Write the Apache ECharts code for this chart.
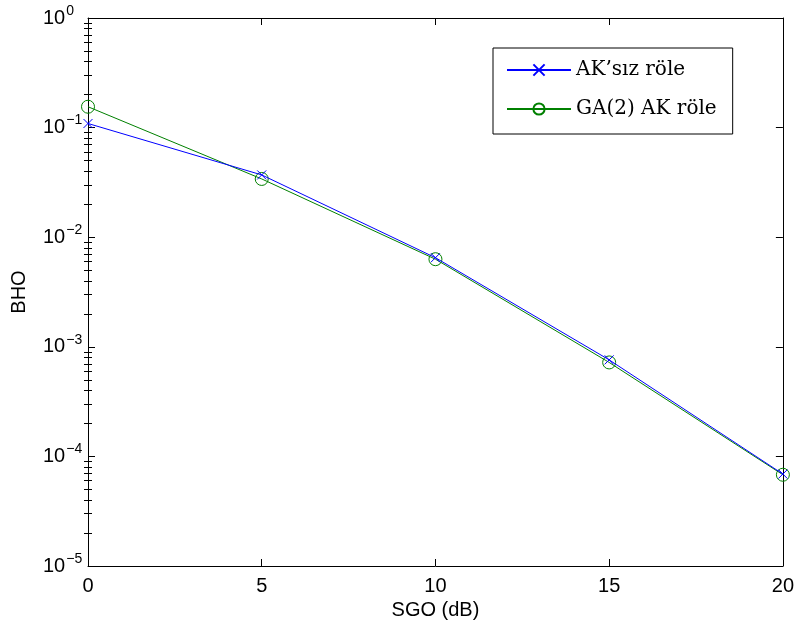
<!DOCTYPE html>
<html>
<head>
<meta charset="utf-8">
<script src="https://cdn.jsdelivr.net/npm/echarts@6/dist/echarts.min.js"></script>
<style>
  html, body { margin: 0; padding: 0; background: #fff; }
  #chart { width: 797px; height: 631px; }
</style>
</head>
<body>
<div id="chart"></div>
<script>
// SNR sweep (dB) and bit error rates for the two relay schemes
const snrDb = [0, 5, 10, 15, 20];
const berPlainRelay = [0.109, 0.037, 0.0065, 7.6e-4, 6.9e-5];
const berGaRelay = [0.155, 0.034, 0.0063, 7.2e-4, 6.8e-5];
const seriesNames = ['AK\u2019s\u0131z r\u00f6le', 'GA(2) AK r\u00f6le'];
const xTicks = [0, 5, 10, 15, 20];
const yDecades = [1e-5, 1e-4, 1e-3, 1e-2, 1e-1, 1];

// minor ticks at 2..9 inside each decade
const yMinor = [];
for (let e = -5; e < 0; e++) {
  for (let k = 2; k <= 9; k++) yMinor.push(k * Math.pow(10, e));
}

const crossPath = 'path://M0,0L10,10M10,0L0,10';
const sansFont = '"Liberation Sans", Arial, Helvetica, sans-serif';
const serifFont = '"DejaVu Serif", "Liberation Serif", serif';

function pairs(xs, ys) { return xs.map((x, i) => [x, ys[i]]); }

function logAxis(position, opts) {
  return Object.assign({
    type: 'log', logBase: 10, min: 1e-5, max: 1, position: position,
    gridIndex: 0,
    axisLine: { show: false },
    splitLine: { show: false },
    axisLabel: { show: false },
    axisTick: { show: false }
  }, opts);
}

const chart = echarts.init(document.getElementById('chart'), null, { renderer: 'canvas' });

chart.setOption({
  animation: false,
  backgroundColor: '#fff',
  grid: { left: 88, right: 13, top: 18, bottom: 65, containLabel: false },
  legend: {
    left: 493, top: 48, orient: 'vertical',
    backgroundColor: '#fff', borderColor: '#000', borderWidth: 1,
    padding: [12, 16, 15, 13],
    itemWidth: 64, itemHeight: 14, itemGap: 19,
    textStyle: { fontFamily: serifFont, fontSize: 20, lineHeight: 20, color: '#000' },
    data: seriesNames
  },
  xAxis: [
    {
      type: 'value', min: 0, max: 20, interval: 5, position: 'bottom',
      name: 'SGO (dB)', nameLocation: 'middle', nameGap: 34,
      nameTextStyle: { fontFamily: sansFont, fontSize: 20, color: '#000' },
      axisLine: { show: true, onZero: false, lineStyle: { color: '#000', width: 1 } },
      axisTick: { show: true, inside: true, length: 7, lineStyle: { color: '#000' } },
      axisLabel: { show: true, margin: 10, fontFamily: sansFont, fontSize: 20, color: '#000',
        customValues: xTicks },
      splitLine: { show: false }
    },
    {
      type: 'value', min: 0, max: 20, interval: 5, position: 'top',
      axisLine: { show: true, onZero: false, lineStyle: { color: '#000', width: 1 } },
      axisTick: { show: true, inside: true, length: 7, lineStyle: { color: '#000' } },
      axisLabel: { show: false },
      splitLine: { show: false }
    }
  ],
  yAxis: [
    logAxis('left', {
      name: 'BHO', nameLocation: 'middle', nameGap: 59,
      nameTextStyle: { fontFamily: sansFont, fontSize: 20, color: '#000' },
      axisLine: { show: true, onZero: false, lineStyle: { color: '#000', width: 1 } },
      axisTick: { show: true, inside: true, length: 7, customValues: yDecades, lineStyle: { color: '#000' } },
      axisLabel: {
        show: true, margin: 45, align: 'left', customValues: yDecades,
        formatter: function (v) {
          const e = Math.round(Math.log10(v));
          const exp = e < 0 ? '\u2212' + (-e) : String(e);
          return '{b|10}{s|' + exp + '}';
        },
        rich: {
          b: { fontFamily: sansFont, fontSize: 20, color: '#000', lineHeight: 20, verticalAlign: 'bottom' },
          s: { fontFamily: sansFont, fontSize: 14, color: '#000', lineHeight: 14, verticalAlign: 'bottom', padding: [0, 0, 10, 1] }
        }
      }
    }),
    logAxis('left', {
      axisTick: { show: true, inside: true, length: 4, customValues: yMinor, lineStyle: { color: '#000' } }
    }),
    logAxis('right', {
      axisLine: { show: true, onZero: false, lineStyle: { color: '#000', width: 1 } },
      axisTick: { show: true, inside: true, length: 7, customValues: yDecades, lineStyle: { color: '#000' } }
    }),
    logAxis('right', {
      axisTick: { show: true, inside: true, length: 4, customValues: yMinor, lineStyle: { color: '#000' } }
    })
  ],
  series: [
    {
      name: seriesNames[0], type: 'line', xAxisIndex: 0, yAxisIndex: 0,
      data: pairs(snrDb, berPlainRelay),
      symbol: crossPath, symbolSize: 9, symbolKeepAspect: true,
      lineStyle: { color: '#0000ff', width: 1 },
      itemStyle: { color: 'rgba(0,0,0,0)', borderColor: '#0000ff', borderWidth: 1 },
      z: 3
    },
    {
      name: seriesNames[1], type: 'line', xAxisIndex: 0, yAxisIndex: 0,
      data: pairs(snrDb, berGaRelay),
      symbol: 'circle', symbolSize: 13,
      lineStyle: { color: '#008000', width: 1 },
      itemStyle: { color: 'rgba(0,0,0,0)', borderColor: '#008000', borderWidth: 1 },
      z: 2
    }
  ]
});
</script>
</body>
</html>
